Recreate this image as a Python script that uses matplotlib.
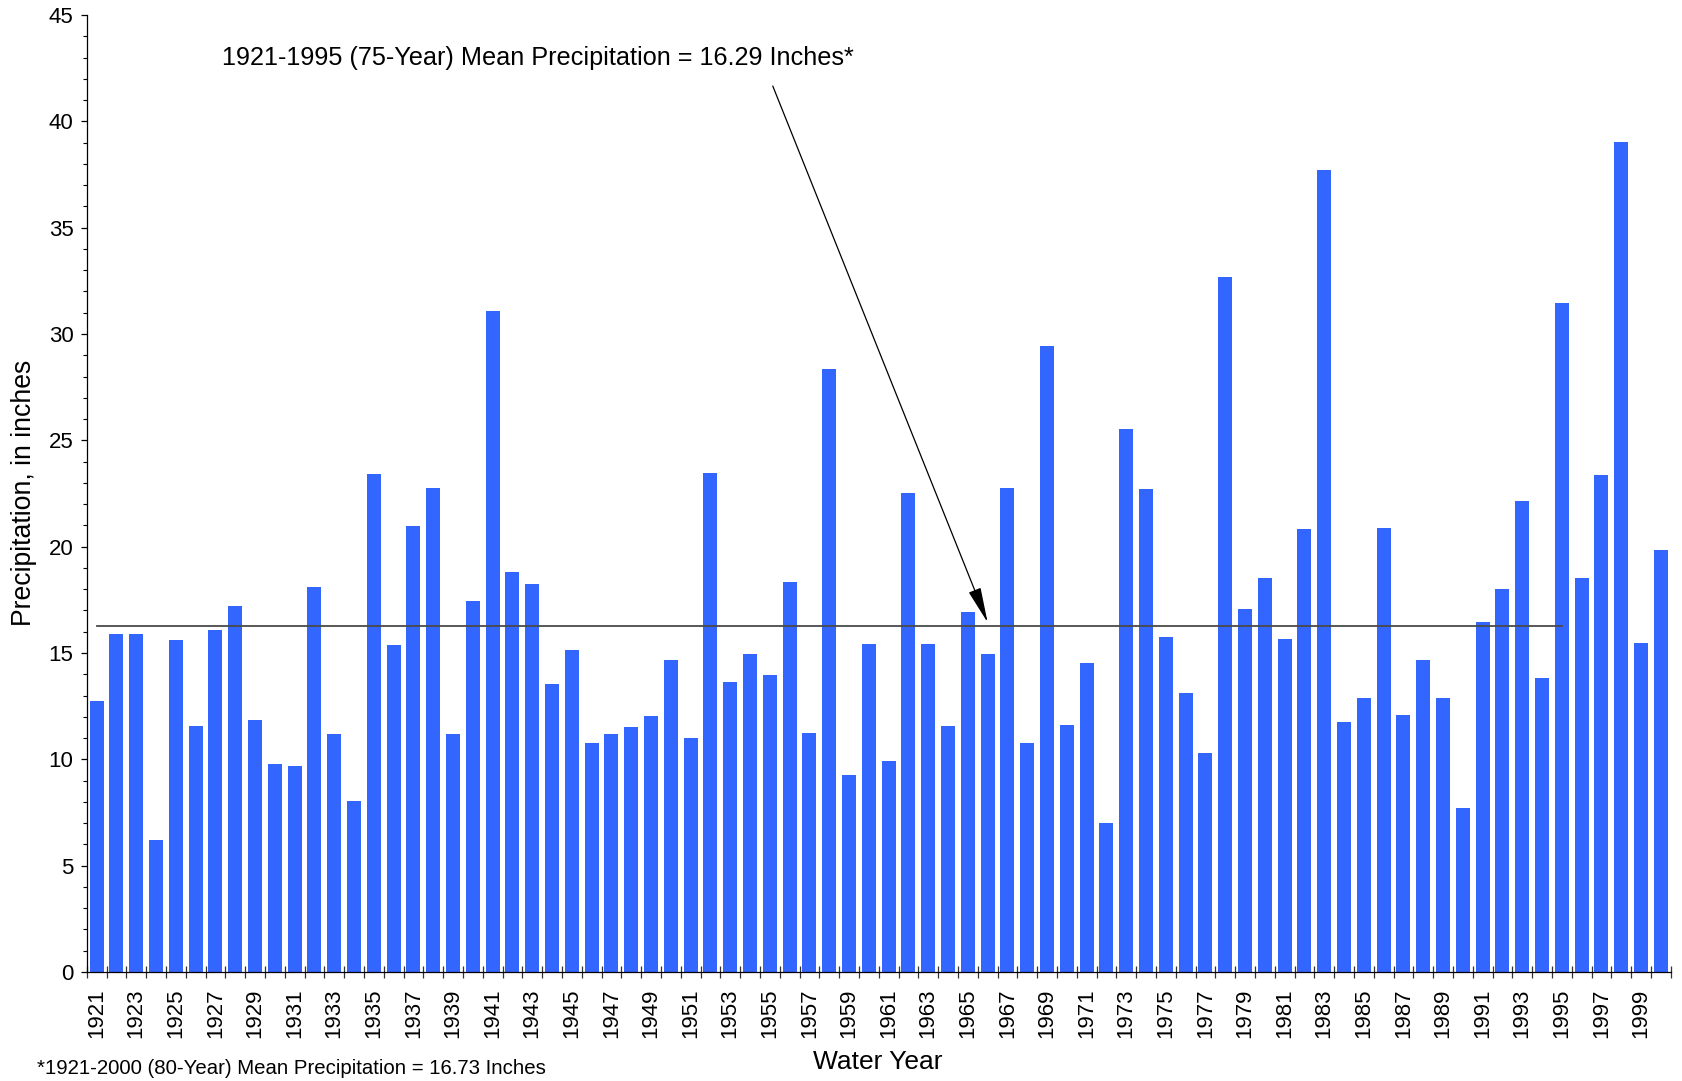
import matplotlib
matplotlib.use("Agg")
import matplotlib.pyplot as plt
from matplotlib.ticker import FixedLocator, MultipleLocator

plt.rcParams['font.family'] = ['Liberation Sans', 'DejaVu Sans']

years = list(range(1921, 2001))
precip = [
    12.74, 15.89, 15.89, 6.20, 15.60, 11.57, 16.08, 17.21, 11.85, 9.78,   # 1921-1930
    9.69, 18.10, 11.19, 8.04, 23.41, 15.37, 20.97, 22.76, 11.19, 17.44,   # 1931-1940
    31.08, 18.80, 18.24, 13.54, 15.14, 10.77, 11.19, 11.52, 12.04, 14.67, # 1941-1950
    11.00, 23.46, 13.63, 14.95, 13.96, 18.34, 11.24, 28.35, 9.26, 15.42,  # 1951-1960
    9.92, 22.52, 15.42, 11.57, 16.93, 14.95, 22.76, 10.77, 29.43, 11.61,  # 1961-1970
    14.53, 7.00, 25.53, 22.71, 15.75, 13.12, 10.30, 32.68, 17.07, 18.52,  # 1971-1980
    15.66, 20.83, 37.70, 11.75, 12.88, 20.87, 12.08, 14.67, 12.88, 7.71,  # 1981-1990
    16.46, 18.00, 22.14, 13.82, 31.45, 18.52, 23.37, 39.02, 15.47, 19.84, # 1991-2000
]
mean_75 = 16.29
mean_75_years = (1921, 1995)
label_years = list(range(1921, 2000, 2))

annot_text = "1921-1995 (75-Year) Mean Precipitation = 16.29 Inches*"
foot_text = "*1921-2000 (80-Year) Mean Precipitation = 16.73 Inches"

W, H = 1682, 1081
fig = plt.figure(figsize=(W / 100, H / 100), dpi=100)
ax = fig.add_axes([86.7 / W, 1 - 972 / H, (1670.7 - 86.7) / W, (972 - 15) / H])

ax.bar(years, precip, width=0.71, color='#3366FF', zorder=2)
ax.plot(mean_75_years, [mean_75, mean_75], color='#4a4a4a', lw=1.3, zorder=3)

ax.set_xlim(1920.5, 2000.5)
ax.set_ylim(0, 45)

for s in ['top', 'right']:
    ax.spines[s].set_visible(False)
for s in ['left', 'bottom']:
    ax.spines[s].set_linewidth(0.9)
    ax.spines[s].set_color('black')

# x ticks: marks at year boundaries, labels at odd years
ax.xaxis.set_major_locator(FixedLocator([y - 0.5 for y in years] + [years[-1] + 0.5]))
ax.tick_params(axis='x', which='major', direction='inout', length=9, width=0.9,
               labelbottom=False, color='#333333')
ax.set_xticks(label_years, minor=True)
ax.set_xticklabels([str(y) for y in label_years], minor=True, rotation=90,
                   fontsize=16)
ax.tick_params(axis='x', which='minor', length=0, pad=12)

# y ticks
ax.yaxis.set_major_locator(MultipleLocator(5))
ax.yaxis.set_minor_locator(MultipleLocator(1))
ax.tick_params(axis='y', which='major', direction='out', length=4.5, width=0.9,
               labelsize=16, pad=5)
ax.tick_params(axis='y', which='minor', direction='out', length=3, width=0.8)

fig.text(23.6 / W, 1 - 493 / H, "Precipitation, in inches", rotation=90,
         ha='center', va='center', fontsize=19.2)
fig.text(878 / W, 1 - 1062 / H, "Water Year", ha='center', va='center', fontsize=19)
fig.text(37 / W, 1 - 1069 / H, foot_text, ha='left', va='center', fontsize=14.65)

ax.text(1943.3, 42.97, annot_text, ha='center', va='center', fontsize=18.2)
ax.annotate("", xy=(1966.0, 16.44), xytext=(1955.15, 41.66),
            arrowprops=dict(arrowstyle='-|>,head_length=1.1,head_width=0.2',
                            mutation_scale=20, color='black', lw=0.9,
                            shrinkA=0, shrinkB=0))

fig.savefig("out.png", dpi=100)
